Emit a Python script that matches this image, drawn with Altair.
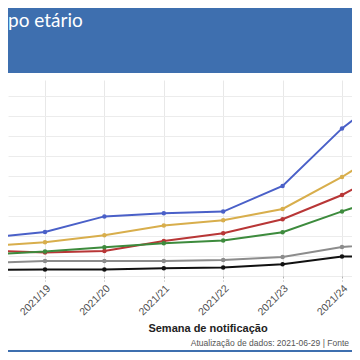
import altair as alt
import pandas as pd

# Data (values in arbitrary case units)
weeks = [18, 19, 20, 21, 22, 23, 24, 25]
groups = ["60-69", "50-59", "40-49", "70-79", "30-39", "80+"]
colors = ["#4a60c8", "#d8ae4c", "#b83636", "#3d8b3d", "#8c8c8c", "#111111"]
s_blue = [189, 220, 298, 314, 322, 450, 738, 965]
s_yellow = [148, 169, 204, 252, 279, 335, 495, 680]
s_red = [127, 117, 125, 175, 214, 284, 405, 565]
s_green = [107, 122, 144, 164, 177, 219, 323, 420]
s_gray = [65, 75, 75, 75, 80, 95, 145, 170]
s_black = [30, 32, 32, 39, 42, 59, 97, 100]
tick_weeks = [19, 20, 21, 22, 23, 24]
title_text = "po etário"
x_title = "Semana de notificação"
caption = "Atualização de dados: 2021-06-29 | Fonte"

series = [s_blue, s_yellow, s_red, s_green, s_gray, s_black]
rows = []
for g, vals in zip(groups, series):
    for w, v in zip(weeks, vals):
        rows.append({"semana": w, "valor": v, "grupo": g})
df = pd.DataFrame(rows)

W, H = 344, 196
HEADER = "#3e6faf"

xenc = alt.X(
    "semana:Q",
    scale=alt.Scale(domain=[18.3771, 24.1684], nice=False, zero=False),
    axis=alt.Axis(
        values=tick_weeks,
        labelExpr="'2021/' + datum.value",
        labelAngle=-45,
        labelAlign="right",
        labelBaseline="top",
        labelFontSize=10.5,
        labelFont="Liberation Sans",
        labelColor="#4d4d4d",
        labelPadding=2,
        grid=True,
        gridColor="#e8e8e8",
        domain=False,
        ticks=True,
        tickColor="#b0b0b0",
        tickSize=5,
        tickDash=[2, 2],
        title=None,
    ),
)
yenc = alt.Y(
    "valor:Q",
    scale=alt.Scale(domain=[0, 980], nice=False, zero=True),
    axis=alt.Axis(
        values=list(range(0, 1000, 100)),
        labels=False,
        ticks=False,
        domain=False,
        title=None,
        grid=True,
        gridColor="#ececec",
    ),
)
cenc = alt.Color("grupo:N", scale=alt.Scale(domain=groups, range=colors), legend=None)

base = alt.Chart(df)
lines = base.mark_line(clip=True, strokeWidth=2).encode(x=xenc, y=yenc, color=cenc)
points = base.mark_circle(clip=True, size=20, opacity=1).encode(x=xenc, y=yenc, color=cenc)

one = pd.DataFrame({"k": [0]})
header = alt.Chart(one).mark_rect(color=HEADER).encode(
    x=alt.value(0), x2=alt.value(W), y=alt.value(-72), y2=alt.value(-7)
)
strip = alt.Chart(one).mark_rect(color=HEADER).encode(
    x=alt.value(0), x2=alt.value(W), y=alt.value(270), y2=alt.value(276)
)
title = alt.Chart(one).mark_text(
    text=title_text, font="Lato", fontSize=19, color="white", align="left", baseline="alphabetic"
).encode(x=alt.value(0), y=alt.value(-53))
xtitle = alt.Chart(one).mark_text(
    text=x_title, font="Liberation Sans", fontSize=11, fontWeight="bold", color="#222222",
    align="center", baseline="middle"
).encode(x=alt.value(200), y=alt.value(249))
cap = alt.Chart(one).mark_text(
    text=caption, font="Liberation Sans", fontSize=8.5, color="#555555",
    align="right", baseline="middle"
).encode(x=alt.value(W - 3), y=alt.value(263))

chart = alt.layer(header, strip, lines, points, title, xtitle, cap).properties(
    width=W,
    height=H,
    padding={"left": 0, "top": 72, "right": 0, "bottom": 76},
    autosize=alt.AutoSizeParams(type="none"),
).configure_view(stroke=None)

chart.save("out.html", embed_options={"renderer": "svg", "actions": False})
